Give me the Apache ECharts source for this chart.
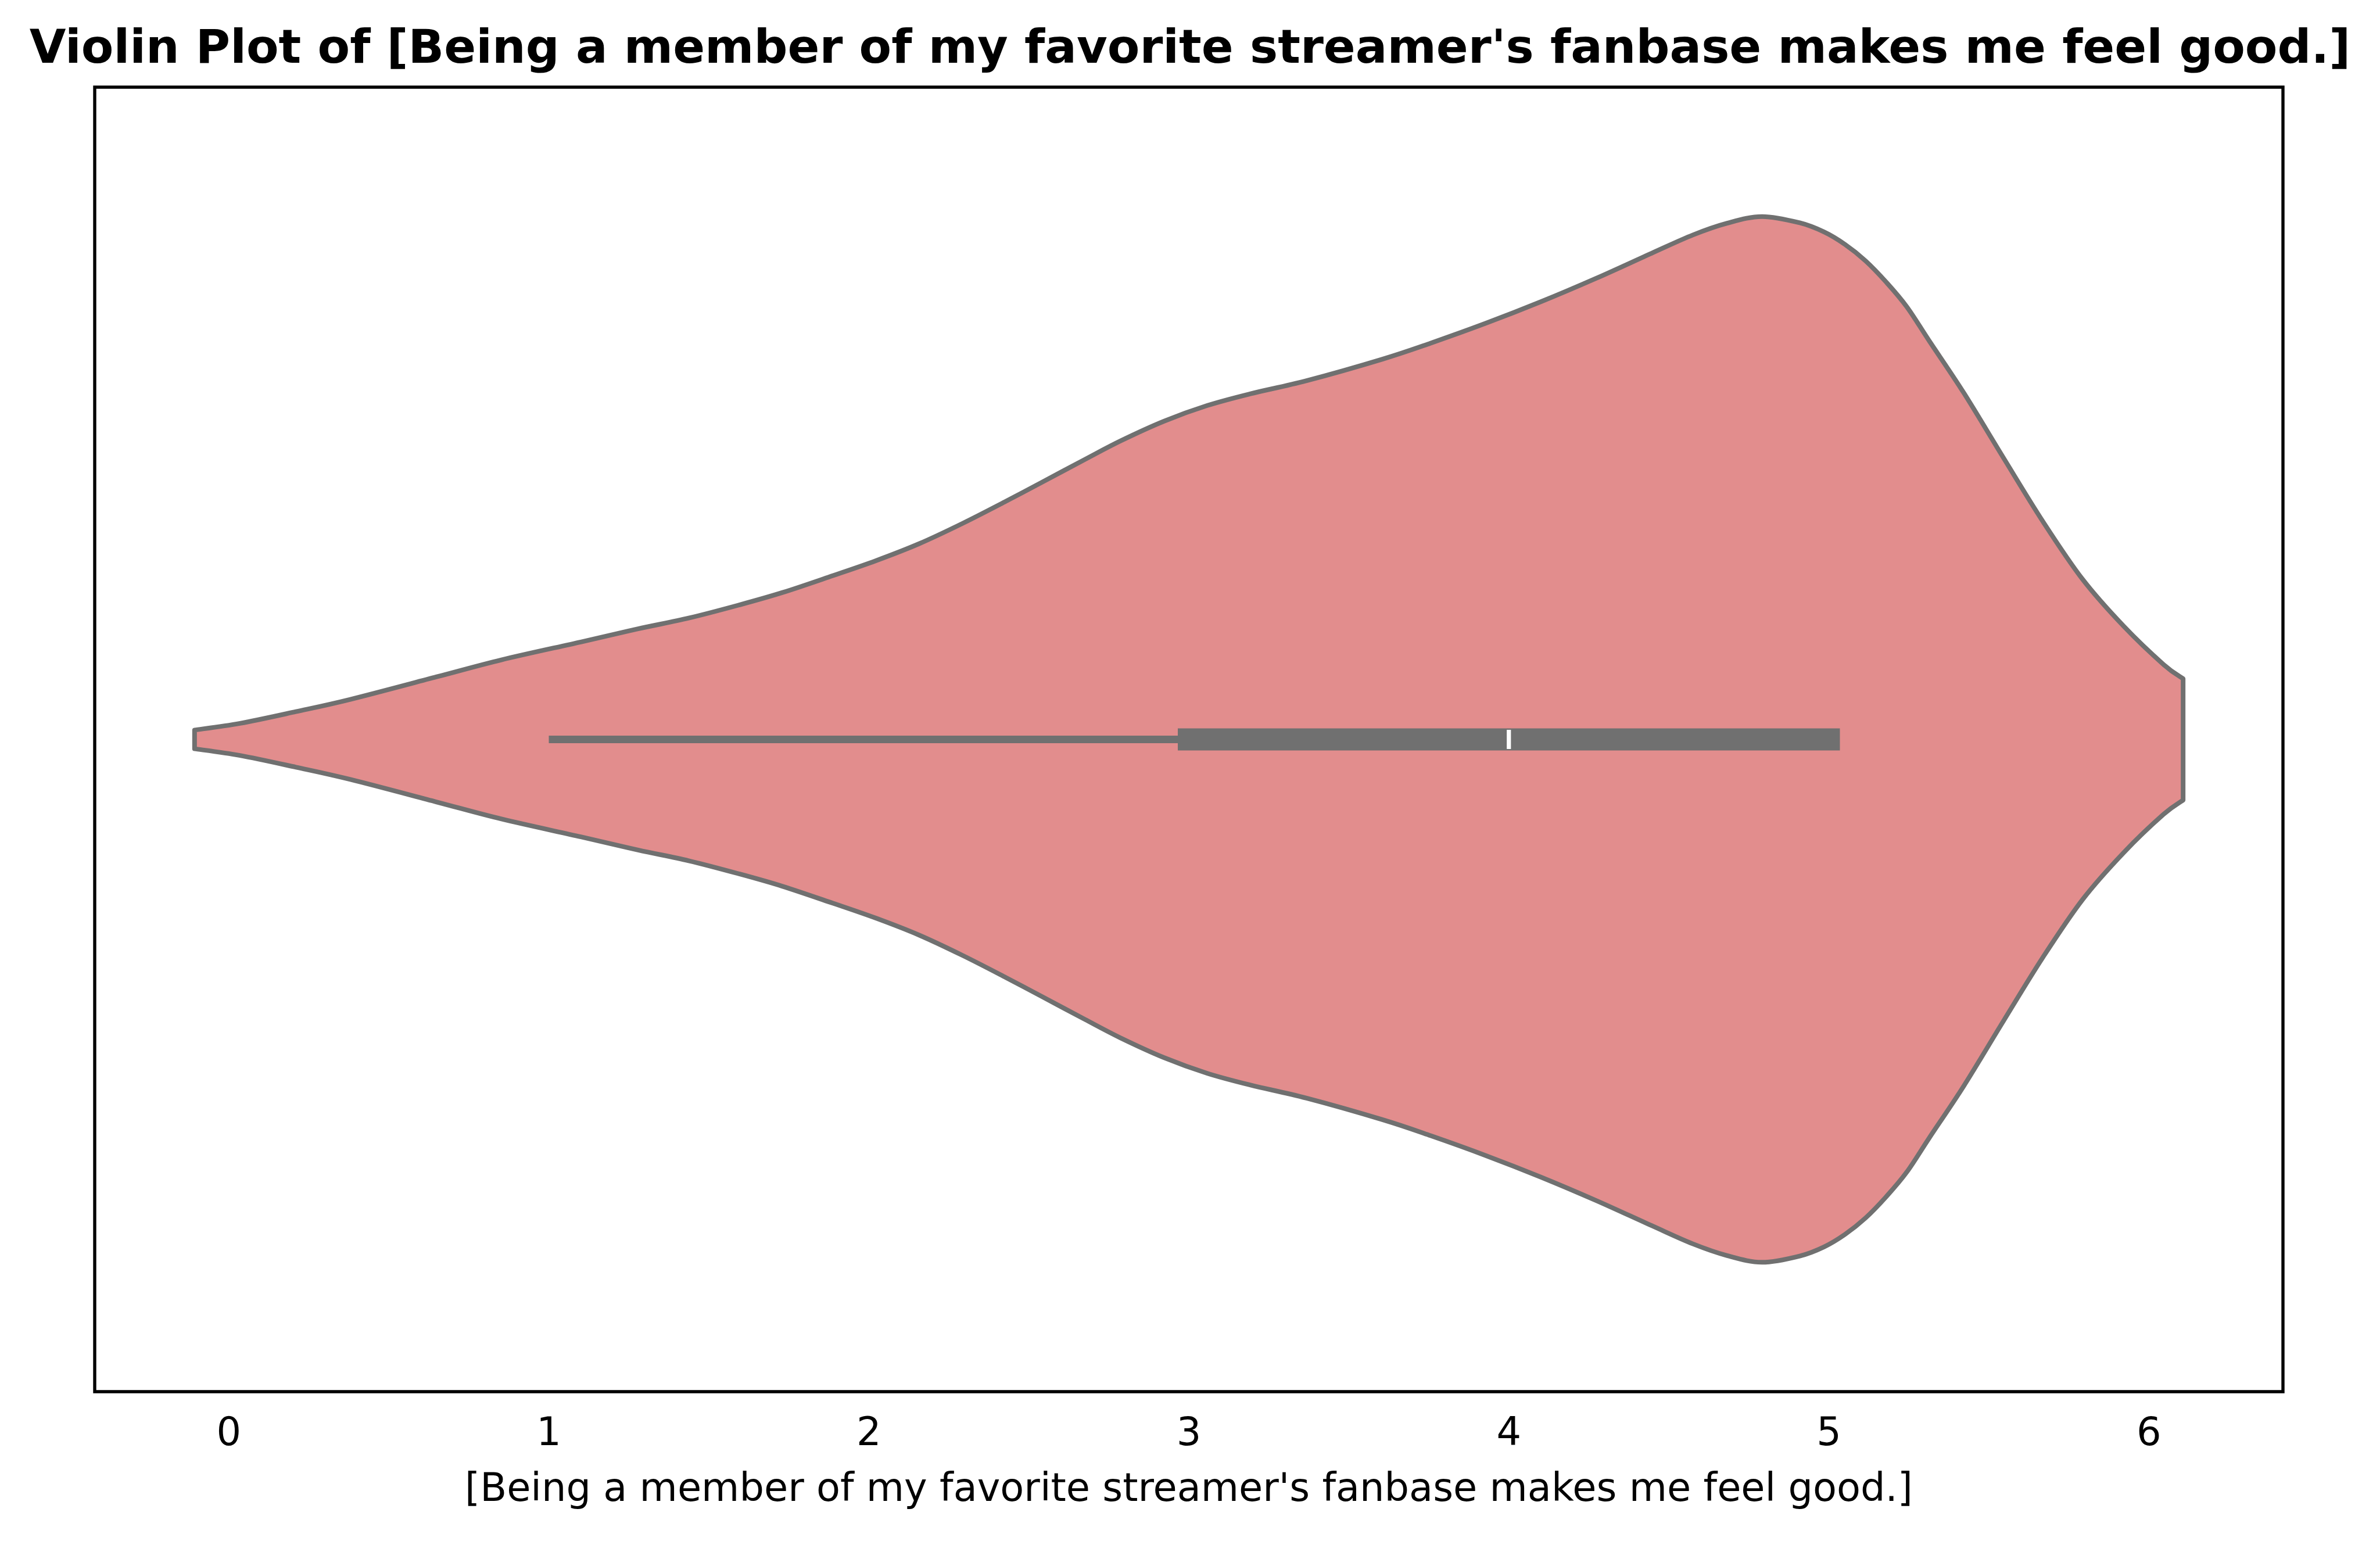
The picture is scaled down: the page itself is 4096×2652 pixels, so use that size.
<!DOCTYPE html>
<html><head><meta charset="utf-8">
<script src="https://cdn.jsdelivr.net/npm/echarts@6/dist/echarts.min.js"></script>
<style>html,body{margin:0;padding:0;background:#fff}#c{width:4096px;height:2652px}</style>
</head><body><div id="c"></div>
<script>
const titleText = "Violin Plot of [Being a member of my favorite streamer's fanbase makes me feel good.]";
const axisName = "[Being a member of my favorite streamer's fanbase makes me feel good.]";
const xTicks = [0, 1, 2, 3, 4, 5, 6];
const xRange = [-0.419, 6.419];
const yRange = [-0.5, 0.5];
// violin outline: x value and half-width (category units)
const densityX = [-0.107, 0.035, 0.21, 0.38, 0.65, 0.852, 1.10, 1.279, 1.437, 1.594, 1.729, 1.887, 2.022, 2.157, 2.293, 2.428, 2.54, 2.675, 2.788, 2.923, 3.058, 3.193, 3.368, 3.605, 3.756, 3.928, 4.10, 4.273, 4.446, 4.575, 4.682, 4.791, 4.909, 4.985, 5.050, 5.114, 5.179, 5.244, 5.315, 5.422, 5.546, 5.669, 5.793, 5.922, 6.046, 6.107];
const densityHalfWidth = [0.0072, 0.0123, 0.0213, 0.0307, 0.048, 0.061, 0.0747, 0.0848, 0.093, 0.103, 0.1125, 0.1255, 0.137, 0.150, 0.1656, 0.1825, 0.197, 0.2146, 0.229, 0.244, 0.256, 0.265, 0.275, 0.2915, 0.3038, 0.319, 0.3355, 0.3535, 0.3727, 0.3867, 0.3957, 0.4008, 0.396, 0.389, 0.3795, 0.367, 0.3506, 0.3315, 0.305, 0.2655, 0.2157, 0.167, 0.1227, 0.0866, 0.0574, 0.0465];
const whiskerRange = [1, 5];
const boxRange = [3, 5];
const medianValue = 4;

const FONT = "'DejaVu Sans', sans-serif";
const EDGE = '#707070';

// smooth path through screen points (Catmull-Rom as cubic Bezier segments)
function smoothSegments(p, start) {
  let d = start ? ('M' + p[0][0] + ' ' + p[0][1]) : ('L' + p[0][0] + ' ' + p[0][1]);
  const n = p.length;
  for (let i = 0; i < n - 1; i++) {
    const p0 = p[Math.max(i - 1, 0)], p1 = p[i], p2 = p[i + 1], p3 = p[Math.min(i + 2, n - 1)];
    const c1x = p1[0] + (p2[0] - p0[0]) / 6, c1y = p1[1] + (p2[1] - p0[1]) / 6;
    const c2x = p2[0] - (p3[0] - p1[0]) / 6, c2y = p2[1] - (p3[1] - p1[1]) / 6;
    d += 'C' + c1x + ' ' + c1y + ' ' + c2x + ' ' + c2y + ' ' + p2[0] + ' ' + p2[1];
  }
  return d;
}

const chart = echarts.init(document.getElementById('c'), null, {renderer: 'canvas'});
chart.setOption({
  animation: false,
  backgroundColor: '#ffffff',
  title: {
    text: titleText, left: 'center', top: 41,
    textStyle: {fontSize: 81, fontWeight: 'bold', fontFamily: FONT, color: '#000'}
  },
  grid: {
    left: 163, right: 167, top: 150, bottom: 257, show: true,
    borderColor: '#000', borderWidth: 5.4, backgroundColor: 'transparent',
    containLabel: false, outerBoundsMode: 'none'
  },
  xAxis: {
    type: 'value', min: xRange[0], max: xRange[1],
    axisLine: {show: false},
    splitLine: {show: false},
    axisTick: {show: true, customValues: xTicks, length: 23.5, lineStyle: {color: '#000', width: 5.4}},
    axisLabel: {customValues: xTicks, fontSize: 67, fontFamily: FONT, color: '#000', margin: 41},
    name: axisName, nameLocation: 'middle', nameGap: 137,
    nameTextStyle: {fontSize: 67, fontFamily: FONT, color: '#000'}
  },
  yAxis: {
    type: 'value', min: yRange[0], max: yRange[1],
    axisLine: {show: false},
    splitLine: {show: false},
    axisTick: {show: true, customValues: [0], length: 23.5, lineStyle: {color: '#000', width: 5.4}},
    axisLabel: {show: false}
  },
  series: [{
    type: 'custom',
    data: [[medianValue, 0]],
    clip: false,
    renderItem: function (params, api) {
      const upper = densityX.map((x, i) => api.coord([x, densityHalfWidth[i]]));
      const lower = densityX.map((x, i) => api.coord([x, -densityHalfWidth[i]])).reverse();
      const d = smoothSegments(upper, true) + smoothSegments(lower, false) + 'Z';
      const w0 = api.coord([whiskerRange[0], 0]), w1 = api.coord([whiskerRange[1], 0]);
      const b0 = api.coord([boxRange[0], 0]), b1 = api.coord([boxRange[1], 0]);
      const m = api.coord([medianValue, 0]);
      return {
        type: 'group',
        children: [
          {type: 'path', shape: {pathData: d},
           style: {fill: '#E28D8D', stroke: EDGE, lineWidth: 8, lineJoin: 'round'}},
          {type: 'line', shape: {x1: w0[0], y1: w0[1], x2: w1[0], y2: w1[1]},
           style: {stroke: EDGE, lineWidth: 13, lineCap: 'butt'}},
          {type: 'line', shape: {x1: b0[0], y1: b0[1], x2: b1[0], y2: b1[1]},
           style: {stroke: EDGE, lineWidth: 38, lineCap: 'square'}},
          {type: 'rect', shape: {x: m[0] - 3.6, y: m[1] - 16.5, width: 7.2, height: 33},
           style: {fill: '#ffffff'}}
        ]
      };
    }
  }]
});
</script>
</body></html>
